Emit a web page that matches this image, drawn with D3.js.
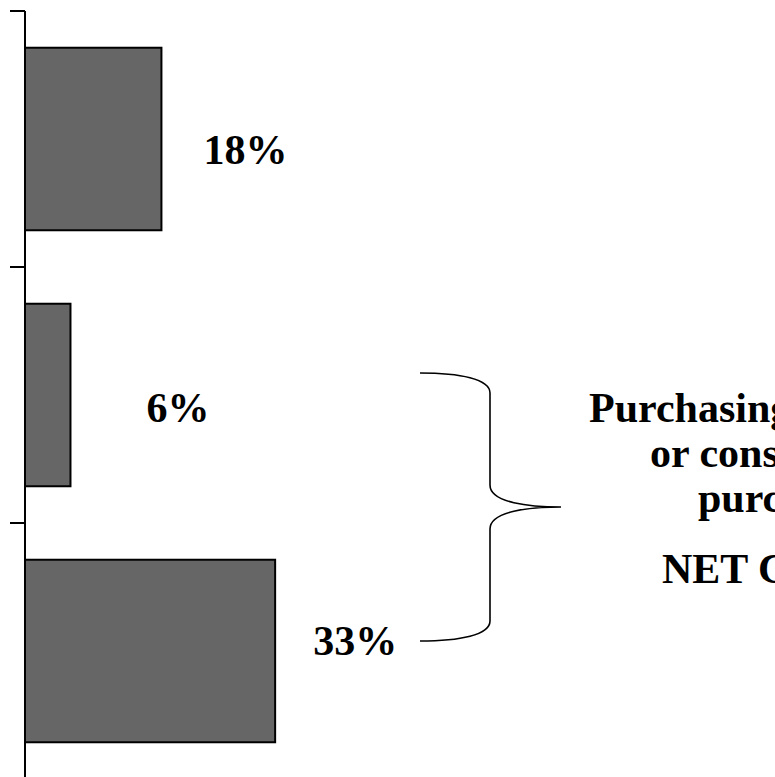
<!DOCTYPE html>
<html>
<head>
<meta charset="utf-8">
<script src="https://cdn.jsdelivr.net/npm/d3@7"></script>
<style>
  html, body { margin: 0; padding: 0; background: #fff; overflow: hidden; }
  svg { display: block; }
  text { font-family: "Liberation Serif", "Times New Roman", serif; font-weight: bold; fill: #000; }
</style>
</head>
<body>
<svg id="chart" width="775" height="777"></svg>
<script>
// ---- data ----
const categories = ["Category A", "Category B", "Category C"];
const values = [18, 6, 33];
const valueLabels = ["18%", "6%", "33%"];
const noteLines = ["Purchasing product", "or considering", "purchase", "NET Considering"];

// ---- layout (not data) ----
const W = 775, H = 777;
const axisX = 25, axisTop = 11, axisBottom = 779;
const labelOffsets = [[42, 25], [76, 27], [38, 4]]; // dx from bar end, dy from band centre (baseline)
const noteStarts = [[589, 422], [650, 467], [698, 512], [662, 583]];

const svg = d3.select("#chart");

const x = d3.scaleLinear().domain([0, 100]).range([axisX, axisX + 758]);
const y = d3.scaleBand().domain(categories).range([axisTop, axisBottom])
  .paddingInner(0.287).paddingOuter(0.1435);

// bars
svg.selectAll("rect.bar").data(values).join("rect")
  .attr("class", "bar")
  .attr("x", x(0))
  .attr("y", (d, i) => y(categories[i]))
  .attr("width", d => x(d) - x(0))
  .attr("height", y.bandwidth())
  .attr("fill", "#666666")
  .attr("stroke", "#000")
  .attr("stroke-width", 2);

// axis line
svg.append("line")
  .attr("x1", axisX).attr("x2", axisX)
  .attr("y1", axisTop).attr("y2", axisBottom)
  .attr("stroke", "#000").attr("stroke-width", 2);

// ticks at band boundaries
const step = y.step();
const tickYs = categories.map(c => y(c) - y.paddingOuter() * step).concat([axisBottom]);
svg.selectAll("line.tick").data(tickYs).join("line")
  .attr("class", "tick")
  .attr("x1", axisX - 15).attr("x2", axisX)
  .attr("y1", d => d).attr("y2", d => d)
  .attr("stroke", "#000").attr("stroke-width", 2);

// value labels
svg.selectAll("text.val").data(values).join("text")
  .attr("class", "val")
  .attr("x", (d, i) => x(d) + labelOffsets[i][0])
  .attr("y", (d, i) => y(categories[i]) + y.bandwidth() / 2 + labelOffsets[i][1])
  .attr("font-size", 42)
  .text((d, i) => valueLabels[i]);

// bracket annotation
const bx0 = 420, bx1 = 490, bx2 = 561, by0 = 373, byMid = 507, by1 = 641;
const bracket = d3.path();
bracket.moveTo(bx0, by0);
bracket.bezierCurveTo(bx0 + 40, by0, bx1, by0 + 6, bx1, by0 + 20);
bracket.lineTo(bx1, byMid - 22);
bracket.bezierCurveTo(bx1, byMid - 4, bx1 + 40, byMid, bx2, byMid);
bracket.bezierCurveTo(bx1 + 40, byMid, bx1, byMid + 4, bx1, byMid + 22);
bracket.lineTo(bx1, by1 - 20);
bracket.bezierCurveTo(bx1, by1 - 6, bx0 + 40, by1, bx0, by1);
svg.append("path")
  .attr("d", bracket.toString())
  .attr("fill", "none")
  .attr("stroke", "#000")
  .attr("stroke-width", 1.6);

// note text
svg.selectAll("text.note").data(noteLines).join("text")
  .attr("class", "note")
  .attr("x", (d, i) => noteStarts[i][0])
  .attr("y", (d, i) => noteStarts[i][1])
  .attr("font-size", 42)
  .text(d => d);
</script>
</body>
</html>
